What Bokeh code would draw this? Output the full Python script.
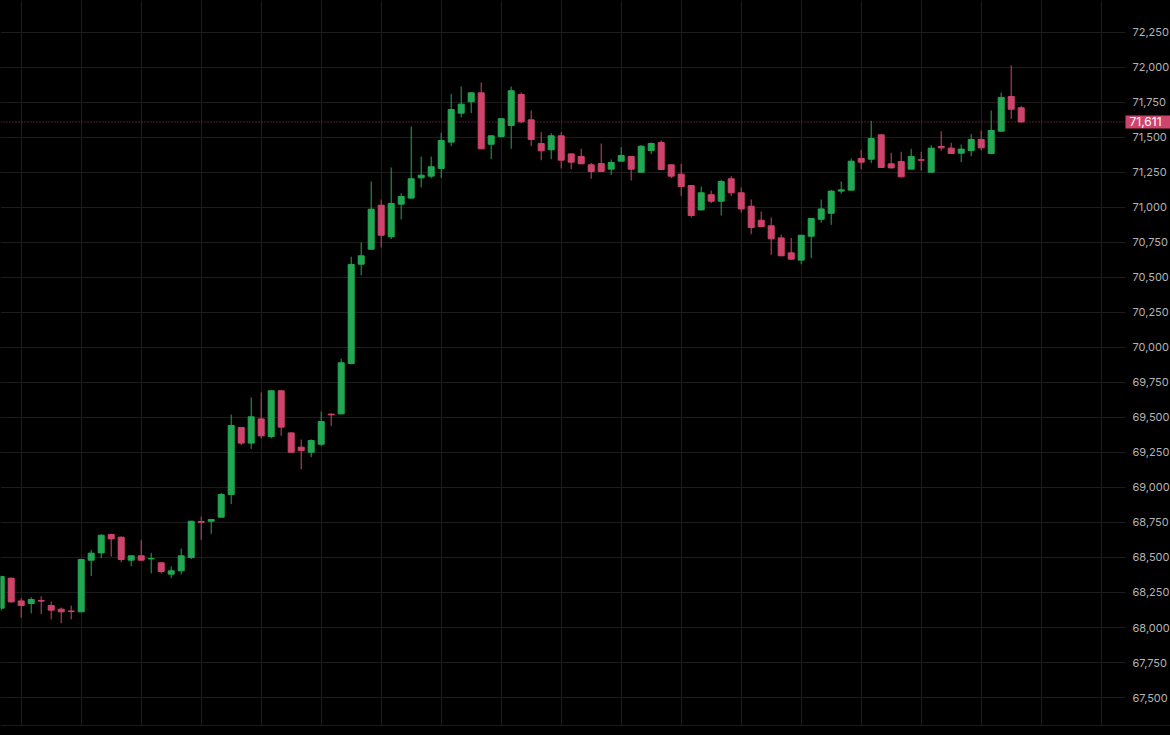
from bokeh.plotting import figure
from bokeh.models import (ColumnDataSource, Range1d, SingleIntervalTicker, FixedTicker,
                          NumeralTickFormatter, Span, Label, BoxAnnotation)
from bokeh.embed import file_html
from bokeh.resources import INLINE

# ---- data ----
opens = [68138, 68352, 68190, 68171, 68193, 68157, 68131, 68118, 68112, 68481,
         68533, 68664, 68645, 68481, 68512, 68490, 68462, 68381, 68405, 68500,
         68757, 68759, 68788, 68950, 69429, 69317, 69490, 69364, 69691, 69390,
         69288, 69252, 69309, 69524, 69526, 69886, 70595, 70702, 71016, 70791,
         71024, 71067, 71212, 71224, 71279, 71467, 71674, 71755, 71819, 71452,
         71507, 71586, 71807, 71626, 71457, 71412, 71512, 71383, 71364, 71305,
         71314, 71274, 71331, 71364, 71252, 71407, 71464, 71305, 71238, 71157,
         70983, 71091, 71045, 71205, 71105, 71009, 70909, 70869, 70783, 70676,
         70624, 70795, 70916, 70959, 71117, 71124, 71350, 71345, 71519, 71312,
         71329, 71274, 71341, 71252, 71436, 71424, 71388, 71407, 71486, 71386,
         71545, 71793, 71712]
highs = [68370, 68358, 68212, 68216, 68223, 68186, 68143, 68157, 68491, 68555,
         68666, 68670, 68650, 68514, 68626, 68533, 68464, 68436, 68564, 68762,
         68793, 68774, 68962, 69521, 69432, 69643, 69679, 69693, 69693, 69393,
         69343, 69343, 69543, 69529, 69919, 70648, 70750, 71186, 71057, 71286,
         71102, 71579, 71364, 71364, 71534, 71812, 71864, 71822, 71893, 71515,
         71636, 71864, 71821, 71693, 71538, 71531, 71538, 71386, 71419, 71319,
         71457, 71343, 71431, 71366, 71445, 71464, 71479, 71307, 71312, 71160,
         71150, 71121, 71198, 71224, 71143, 71057, 70971, 70929, 70807, 70783,
         70804, 70923, 71057, 71125, 71186, 71350, 71412, 71619, 71521, 71391,
         71398, 71419, 71398, 71445, 71545, 71462, 71450, 71526, 71550, 71693,
         71821, 72014, 71726]
lows = [68120, 68178, 68071, 68101, 68095, 68057, 68031, 68058, 68109, 68367,
        68495, 68507, 68466, 68438, 68478, 68386, 68386, 68352, 68379, 68488,
        68626, 68669, 68788, 68881, 69302, 69276, 69350, 69350, 69369, 69250,
        69129, 69217, 69295, 69438, 69524, 69880, 70516, 70700, 70714, 70774,
        70914, 71065, 71143, 71209, 71212, 71438, 71645, 71674, 71417, 71345,
        71500, 71419, 71602, 71438, 71338, 71345, 71279, 71274, 71310, 71205,
        71255, 71233, 71329, 71193, 71250, 71381, 71269, 71209, 71083, 70929,
        70981, 71031, 70943, 71083, 70964, 70809, 70862, 70662, 70653, 70629,
        70595, 70638, 70891, 70876, 71098, 71122, 71274, 71317, 71284, 71279,
        71217, 71272, 71264, 71250, 71405, 71384, 71324, 71366, 71407, 71384,
        71543, 71633, 71609]
closes = [68364, 68183, 68157, 68200, 68188, 68124, 68112, 68115, 68486, 68531,
          68659, 68633, 68486, 68512, 68481, 68493, 68400, 68405, 68512, 68759,
          68752, 68771, 68950, 69443, 69317, 69505, 69369, 69691, 69431, 69252,
          69264, 69336, 69471, 69519, 69891, 70593, 70655, 70988, 70802, 71029,
          71079, 71205, 71231, 71291, 71479, 71700, 71738, 71819, 71419, 71512,
          71634, 71834, 71612, 71486, 71405, 71512, 71338, 71324, 71312, 71257,
          71257, 71321, 71371, 71274, 71438, 71457, 71271, 71224, 71150, 70943,
          71105, 71045, 71186, 71105, 70990, 70857, 70864, 70776, 70655, 70631,
          70802, 70921, 70990, 71117, 71126, 71331, 71324, 71493, 71286, 71283,
          71219, 71364, 71338, 71424, 71426, 71386, 71417, 71486, 71426, 71550,
          71786, 71702, 71611]
time_grid = [2, 8, 14, 20, 26, 32, 38, 44, 50, 56, 62, 68, 74, 80, 86, 92, 98, 104, 110]

UP = "#22a852"
DOWN = "#cf446c"
BG = "#000000"
GRID = "#1c1c1c"

# layout constants (bar slots); the price scale sits at slot 112.43
X_START, X_END, SCALE_AT = -0.07, 116.93, 112.43

idx = list(range(len(opens)))
colors = [UP if c >= o else DOWN for o, c in zip(opens, closes)]
src = ColumnDataSource(dict(
    x=idx, open=opens, high=highs, low=lows, close=closes,
    top=[max(o, c) for o, c in zip(opens, closes)],
    bottom=[min(o, c) for o, c in zip(opens, closes)],
    color=colors,
))

p = figure(width=1170, height=735,
           x_range=Range1d(X_START, X_END), y_range=Range1d(67300, 72478.57),
           x_axis_location=None, y_axis_location="right",
           output_backend="svg", toolbar_location=None,
           background_fill_color=BG, border_fill_color=BG,
           min_border_left=0, min_border_top=0, min_border_bottom=10, min_border_right=0)
p.outline_line_color = None

ticker = SingleIntervalTicker(interval=250)
p.yaxis.ticker = ticker
p.yaxis.fixed_location = SCALE_AT
p.ygrid.ticker = ticker
p.ygrid.grid_line_color = GRID
p.yaxis.formatter = NumeralTickFormatter(format="0,0")
p.yaxis.axis_line_color = None
p.yaxis.major_tick_line_color = None
p.yaxis.minor_tick_line_color = None
p.yaxis.major_tick_out = 0
p.yaxis.major_tick_in = 0
p.yaxis.minor_tick_out = 0
p.yaxis.major_label_standoff = 7
p.yaxis.major_label_text_color = "#b4b4b4"
p.yaxis.major_label_text_font = "Inter"
p.yaxis.major_label_text_font_size = "11px"

p.xgrid.ticker = FixedTicker(ticks=time_grid)
p.xgrid.grid_line_color = GRID

# price-scale area: hide the grid behind the labels
p.add_layout(BoxAnnotation(left=SCALE_AT, right=X_END, fill_color=BG, fill_alpha=1.0,
                           line_color=None, level="underlay"))

p.segment(x0="x", y0="low", x1="x", y1="high", source=src, line_color="color", line_width=1)
p.vbar(x="x", top="top", bottom="bottom", width=0.6, source=src,
       fill_color="color", line_color="color", line_width=1)

p.add_layout(Span(location=closes[-1], dimension="width", line_color=DOWN,
                  line_alpha=0.8, line_dash="1 2", line_width=1))
p.add_layout(Span(location=p.y_range.start, dimension="width", line_color="#33333d", line_width=1))

p.add_layout(Label(x=SCALE_AT, y=closes[-1], text="{:,.0f}".format(closes[-1]),
                   text_color="#ffffff", text_font="Inter", text_font_size="12px",
                   text_align="left", text_baseline="middle",
                   background_fill_color=DOWN,
                   padding=dict(left=4, right=12, top=2, bottom=2)))

html = file_html(p, INLINE)
html = html.replace("<head>", "<head><style>html,body{background:#000000;}</style>", 1)
open("out.html", "w").write(html)
